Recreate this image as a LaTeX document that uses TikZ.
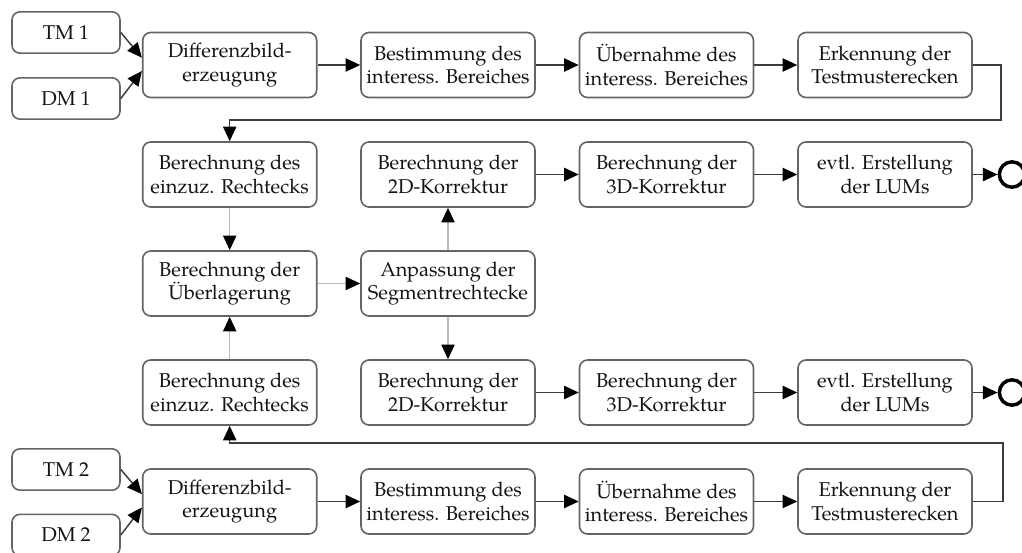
\documentclass[tikz,border=0pt]{standalone}
\usepackage{fontspec}
\setmainfont{TeX Gyre Pagella}
\usetikzlibrary{arrows.meta}
\definecolor{boxgray}{RGB}{100,100,100}
\definecolor{darkline}{RGB}{60,60,60}
\definecolor{lightline}{RGB}{185,185,185}
\definecolor{txt}{RGB}{20,20,20}
\begin{document}
\begin{tikzpicture}[x=0.75pt,y=-0.75pt,
  box/.style={draw=boxgray, line width=1.2pt, rounded corners=6pt, minimum width=130.5pt, minimum height=48.75pt, align=center, font=\fontsize{15}{17.5}\selectfont, text=txt, inner sep=0pt},
  smallbox/.style={box, minimum width=81pt, minimum height=31pt},
  endmark/.style={circle, draw=black, line width=2.6pt, minimum size=19pt, inner sep=0pt},
  tip/.style={-{Triangle[length=11pt,width=10pt,color=black]}},
  mainline/.style={draw=darkline, line width=1.1pt, tip},
  lightconn/.style={draw=lightline, line width=0.9pt, tip}
]
\useasboundingbox (0,0) rectangle (1022,553);
% row 1
\node[smallbox] (tm1) at (66,32.5) {TM 1};
\node[smallbox] (dm1) at (66,98.5) {DM 1};
\node[box] (d1) at (229.7,65) {Differenzbild-\\erzeugung};
\node[box] (b1) at (448,65) {Bestimmung des\\interess. Bereiches};
\node[box] (u1) at (666.5,65) {Übernahme des\\interess. Bereiches};
\node[box] (k1) at (885,65) {Erkennung der\\Testmusterecken};
% row 2
\node[box] (r2) at (229.7,174.5) {Berechnung des\\einzuz. Rechtecks};
\node[box] (z2) at (448,174.5) {Berechnung der\\2D-Korrektur};
\node[box] (y2) at (666.5,174.5) {Berechnung der\\3D-Korrektur};
\node[box] (l2) at (885,174.5) {evtl. Erstellung\\der LUMs};
\node[endmark] (e2) at (1012,174.5) {};
% row 3
\node[box] (ov) at (229.7,283.5) {Berechnung der\\Überlagerung};
\node[box] (an) at (448,283.5) {Anpassung der\\Segmentrechtecke};
% row 4
\node[box] (r4) at (229.7,392.5) {Berechnung des\\einzuz. Rechtecks};
\node[box] (z4) at (448,392.5) {Berechnung der\\2D-Korrektur};
\node[box] (y4) at (666.5,392.5) {Berechnung der\\3D-Korrektur};
\node[box] (l4) at (885,392.5) {evtl. Erstellung\\der LUMs};
\node[endmark] (e4) at (1012,392.5) {};
% row 5
\node[smallbox] (tm2) at (66,469.5) {TM 2};
\node[smallbox] (dm2) at (66,535) {DM 2};
\node[box] (d5) at (229.7,501.5) {Differenzbild-\\erzeugung};
\node[box] (b5) at (448,501.5) {Bestimmung des\\interess. Bereiches};
\node[box] (u5) at (666.5,501.5) {Übernahme des\\interess. Bereiches};
\node[box] (k5) at (885,501.5) {Erkennung der\\Testmusterecken};
\coordinate (c1) at (1001,65);
\coordinate (c2) at (1001,120);
\coordinate (c3) at (1003,501.5);
\coordinate (c4) at (1003,443);
% connectors row 1
\draw[mainline] (tm1.east) -- ([yshift=5.5pt]d1.west);
\draw[mainline] (dm1.east) -- ([yshift=-4.5pt]d1.west);
\draw[mainline] (d1) -- (b1);
\draw[mainline] (b1) -- (u1);
\draw[mainline] (u1) -- (k1);
\draw[mainline] (k1.east) -- (c1) -- (c2) -- (c2 -| r2) -- (r2.north);
% row 2
\draw[mainline] (z2) -- (y2);
\draw[mainline] (y2) -- (l2);
\draw[mainline] (l2) -- (e2);
% middle light connectors
\draw[lightconn] (r2) -- (ov);
\draw[lightconn] (r4) -- (ov);
\draw[lightconn] (ov) -- (an);
\draw[lightconn] (an) -- (z2);
\draw[lightconn] (an) -- (z4);
% row 4
\draw[mainline] (z4) -- (y4);
\draw[mainline] (y4) -- (l4);
\draw[mainline] (l4) -- (e4);
% row 5
\draw[mainline] (tm2.east) -- ([yshift=5.5pt]d5.west);
\draw[mainline] (dm2.east) -- ([yshift=-4.5pt]d5.west);
\draw[mainline] (d5) -- (b5);
\draw[mainline] (b5) -- (u5);
\draw[mainline] (u5) -- (k5);
\draw[mainline] (k5.east) -- (c3) -- (c4) -- (c4 -| r4) -- (r4.south);
\end{tikzpicture}
\end{document}
